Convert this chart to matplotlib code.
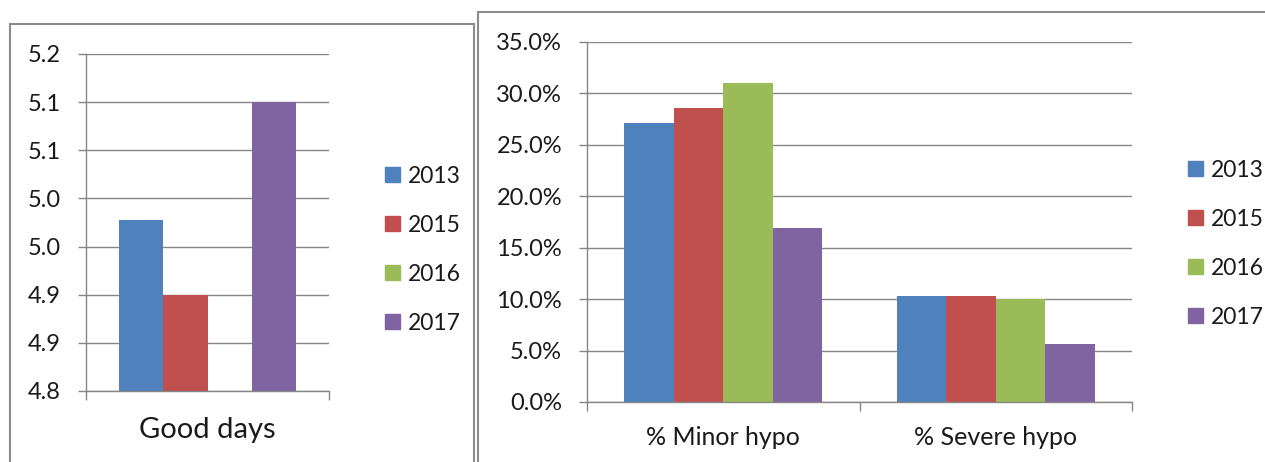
import numpy as np
import matplotlib
matplotlib.use('agg')
import matplotlib.pyplot as plt
from matplotlib import patches

years = ['2013', '2015', '2016', '2017']
colors = ['#4F81BD', '#C0504D', '#9BBB59', '#8064A2']

# left chart: good days (2016 has no bar)
good_days = [4.978, 4.90, np.nan, 5.10]
good_ticks = [4.80, 4.85, 4.90, 4.95, 5.00, 5.05, 5.10, 5.15]

# right chart: hypo rates (%)
hypo_cats = ['% Minor hypo', '% Severe hypo']
hypo = {
    '2013': [27.1, 10.33],
    '2015': [28.6, 10.27],
    '2016': [31.0, 9.98],
    '2017': [16.95, 5.67],
}
hypo_ticks = [0, 5, 10, 15, 20, 25, 30, 35]

plt.rcParams['font.family'] = ['Lato', 'DejaVu Sans']
W, H = 1265, 462
fig = plt.figure(figsize=(W / 100, H / 100), dpi=100)
grid_col = '#868686'
txt_col = '#1a1a1a'


def pos(x0, x1, y0, y1):
    # pixel box (top-left origin) -> figure fraction
    return [x0 / W, (H - y1) / H, (x1 - x0) / W, (y1 - y0) / H]


def style_axis(ax):
    ax.set_axisbelow(True)
    ax.yaxis.grid(True, color=grid_col, linewidth=1.0)
    for s in ['top', 'right']:
        ax.spines[s].set_visible(False)
    for s in ['left', 'bottom']:
        ax.spines[s].set_color(grid_col)
        ax.spines[s].set_linewidth(1.0)
    ax.tick_params(axis='y', direction='out', length=6, width=1.0, color=grid_col,
                   pad=12, labelsize=17, labelcolor=txt_col)
    ax.tick_params(axis='x', which='major', length=0, labelcolor=txt_col)
    ax.tick_params(axis='x', which='minor', direction='out', length=6.5, width=1.0,
                   color=grid_col)


# panel borders
fig.add_artist(patches.Rectangle((10 / W, -0.1), 464 / W, (H - 24) / H + 0.1,
                                 fill=False, edgecolor='#8c8c8c', linewidth=1.5,
                                 transform=fig.transFigure))
fig.add_artist(patches.Rectangle((478 / W, -0.1), 1.0, (H - 12) / H + 0.1,
                                 fill=False, edgecolor='#8c8c8c', linewidth=1.5,
                                 transform=fig.transFigure))

# ---- left chart
ax1 = fig.add_axes(pos(86, 329, 54, 391))
w1 = 0.183
for i, (yr, v) in enumerate(zip(years, good_days)):
    ax1.bar((i - 1.5) * w1, v, width=w1, color=colors[i], label=yr, linewidth=0)
ax1.set_xlim(-0.5, 0.5)
ax1.set_ylim(4.8, 5.15)
ax1.set_yticks(good_ticks)
# excel rounds half up: 4.85 -> 4.9
ax1.set_yticklabels(['%.1f' % (t + 1e-9) for t in good_ticks])
ax1.set_xticks([0])
ax1.set_xticklabels(['Good days'], fontsize=21)
ax1.set_xticks([-0.5, 0.5], minor=True)
style_axis(ax1)
ax1.tick_params(axis='x', which='major', pad=19)

handles = [patches.Patch(color=c, label=y) for c, y in zip(colors, years)]
fig.legend(handles=handles, loc='upper left', bbox_to_anchor=(364 / W, (H - 145) / H),
           frameon=False, fontsize=16.5, handlelength=0.68, handleheight=0.68,
           handletextpad=0.35, labelspacing=1.22, labelcolor=txt_col)

# ---- right chart
ax2 = fig.add_axes(pos(587, 1132, 42, 402))
w2 = 0.182
x = np.arange(len(hypo_cats))
for i, yr in enumerate(years):
    ax2.bar(x + (i - 1.5) * w2, hypo[yr], width=w2, color=colors[i], label=yr, linewidth=0)
ax2.set_xlim(-0.5, 1.5)
ax2.set_ylim(0, 35)
ax2.set_yticks(hypo_ticks)
ax2.set_yticklabels(['%.1f%%' % t for t in hypo_ticks])
ax2.set_xticks(x)
ax2.set_xticklabels(hypo_cats, fontsize=18)
ax2.set_xticks([-0.5, 0.5, 1.5], minor=True)
style_axis(ax2)
ax2.tick_params(axis='x', which='major', pad=17)

fig.legend(handles=handles, loc='upper left', bbox_to_anchor=(1167 / W, (H - 139) / H),
           frameon=False, fontsize=16.5, handlelength=0.68, handleheight=0.68,
           handletextpad=0.35, labelspacing=1.22, labelcolor=txt_col)

fig.savefig('out.png', dpi=100)
